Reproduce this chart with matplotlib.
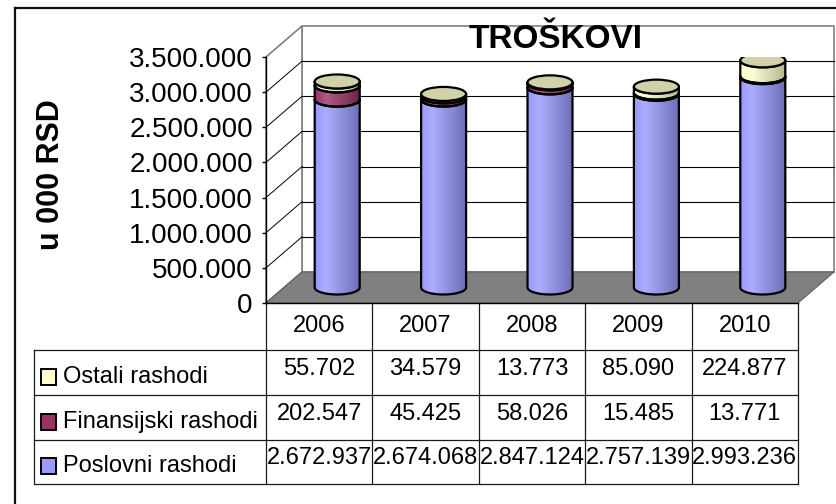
import numpy as np
import matplotlib
matplotlib.use("Agg")
import matplotlib.pyplot as plt
from matplotlib.patches import Polygon, Ellipse, Rectangle
from matplotlib.lines import Line2D
from matplotlib.colors import to_rgb
import matplotlib.transforms as mtrans

plt.rcParams['font.family'] = ['Liberation Sans', 'DejaVu Sans']

# ---------------- data ----------------
years = ['2006', '2007', '2008', '2009', '2010']
poslovni = [2672937, 2674068, 2847124, 2757139, 2993236]
finansijski = [202547, 45425, 58026, 15485, 13771]
ostali = [55702, 34579, 13773, 85090, 224877]
series_names = ['Poslovni rashodi', 'Finansijski rashodi', 'Ostali rashodi']
series_vals = [poslovni, finansijski, ostali]
colors = ['#9999FF', '#993366', '#FFFFCC']
yticks = list(range(0, 3_500_001, 500_000))
title = 'TROŠKOVI'
ylabel = 'u 000 RSD'


def fmt(v):
    return f"{v:,}".replace(",", ".")


W, H = 837, 504
fig = plt.figure(figsize=(W / 100, H / 100), dpi=100)
fig.patch.set_facecolor('white')


def fx(px):
    return px / W


def fy(py):
    return 1 - py / H


# front plane of the 3D plot
AX_L, AX_R, AX_T, AX_B = 266, 798, 57, 303
ax = fig.add_axes([fx(AX_L), fy(AX_B), (AX_R - AX_L) / W, (AX_B - AX_T) / H])
n = len(years)
ax.set_xlim(-0.5, n - 0.5)
ymax = yticks[-1]
ax.set_ylim(0, ymax)
ax.patch.set_visible(False)

ppx = (AX_R - AX_L) / n          # pixels per category
ppy = (AX_B - AX_T) / ymax        # pixels per unit value
DX = 36 / ppx                     # depth offset in data units
DY = 31 / ppy

x0, x1 = -0.5, n - 0.5
gray = '#808080'

# back wall
ax.add_patch(Polygon([(x0 + DX, DY), (x1 + DX, DY), (x1 + DX, ymax + DY), (x0 + DX, ymax + DY)],
                     closed=True, facecolor='white', edgecolor=gray, lw=1.2, clip_on=False, zorder=0.5))
# side wall
ax.add_patch(Polygon([(x0, 0), (x0 + DX, DY), (x0 + DX, ymax + DY), (x0, ymax)],
                     closed=True, facecolor='white', edgecolor=gray, lw=1.2, clip_on=False, zorder=0.5))
# gridlines
for v in yticks[1:-1]:
    ax.add_line(Line2D([x0 + DX, x1 + DX], [v + DY, v + DY], color='black', lw=0.8,
                       clip_on=False, zorder=0.8))
    ax.add_line(Line2D([x0, x0 + DX], [v, v + DY], color='black', lw=0.7,
                       clip_on=False, zorder=0.8))
# floor
ax.add_patch(Polygon([(x0, 0), (x1, 0), (x1 + DX, DY), (x0 + DX, DY)],
                     closed=True, facecolor=gray, edgecolor='#606060', lw=0.8, clip_on=False, zorder=1))


# cylinders
def ramp(color, m=64):
    c = np.array(to_rgb(color))
    light = np.clip(c + (1 - c) * 0.2, 0, 1)
    dark = c * 0.72
    t = np.linspace(0, 1, m)
    out = np.empty((m, 3))
    for k, tt in enumerate(t):
        if tt < 0.25:
            f = tt / 0.25
            out[k] = c * (1 - f) + light * f
        else:
            f = (tt - 0.25) / 0.75
            out[k] = light * (1 - f) + dark * f
    return out


grads = [ramp(c) for c in colors]
CW = 45 / ppx
HY = 7 / ppy
theta = np.linspace(np.pi, 2 * np.pi, 60)

for i in range(n):
    cx = i + DX / 2
    bottom = DY / 2
    for s, vals in enumerate(series_vals):
        v = vals[i]
        b, t = bottom, bottom + v
        arc_b = np.column_stack([cx + CW / 2 * np.cos(theta), b + HY * np.sin(theta)])
        arc_t = np.column_stack([cx + CW / 2 * np.cos(theta), t + HY * np.sin(theta)])[::-1]
        verts = np.vstack([arc_b, arc_t])
        poly = Polygon(verts, closed=True, facecolor='none', edgecolor='black', lw=1.6,
                       zorder=4, joinstyle='round')
        ax.add_patch(poly)
        im = ax.imshow(grads[s][None], extent=(cx - CW / 2, cx + CW / 2, b - HY, t),
                       aspect='auto', zorder=3, interpolation='bilinear')
        im.set_clip_path(poly)
        bottom = t
    topc = np.array(to_rgb(colors[-1])) * 0.82
    ax.add_patch(Ellipse((cx, bottom), CW, 2 * HY, facecolor=topc, edgecolor='black',
                         lw=1.6, zorder=5))

ax.set_xlim(-0.5, n - 0.5)
ax.set_ylim(0, ymax)
ax.set_aspect('auto')

# axes styling
for sp in ['top', 'right']:
    ax.spines[sp].set_visible(False)
ax.spines['left'].set_color('black')
ax.spines['left'].set_linewidth(1.0)
ax.spines['bottom'].set_color('black')
ax.spines['bottom'].set_linewidth(1.0)
ax.set_xticks([])
ax.set_yticks(yticks)
ax.set_yticklabels([fmt(v) for v in yticks])
ax.tick_params(axis='y', length=3, pad=6.5, labelsize=20, width=1.0)

# title and y label
fig.text(fx(556), fy(40), title, fontsize=24, fontweight='bold', ha='center', va='center')
fig.text(fx(51), fy(175), ylabel, fontsize=22, fontweight='bold', rotation=90,
         ha='center', va='center')

# data table
blend = mtrans.blended_transform_factory(ax.transData, fig.transFigure)
row_edges = [303, 350, 395, 440, 484]
LEG_L = 34
tab_right_px = ax.transData.transform((x1, 0))[0]
lc = '#1a1a1a'
for k in range(n + 1):
    ax.add_line(Line2D([k - 0.5, k - 0.5], [fy(row_edges[0]), fy(row_edges[-1])],
                       transform=blend, color=lc, lw=0.9, clip_on=False))
for yy in row_edges[1:]:
    fig.add_artist(Line2D([fx(LEG_L), tab_right_px / W], [fy(yy), fy(yy)], color=lc, lw=0.9))
fig.add_artist(Line2D([fx(LEG_L), fx(LEG_L)], [fy(row_edges[1]), fy(row_edges[-1])], color=lc, lw=0.9))

# header years
for i, yr in enumerate(years):
    ax.text(i, fy(326), yr, transform=blend, ha='center', va='center', fontsize=17)

# rows (Ostali, Finansijski, Poslovni from top)
order = [2, 1, 0]
for r, s in enumerate(order):
    top, bot = row_edges[r + 1], row_edges[r + 2]
    hgt = bot - top
    yv = top + 0.42 * hgt
    yl = top + 0.6 * hgt
    for i in range(n):
        ax.text(i, fy(yv), fmt(series_vals[s][i]), transform=blend, ha='center', va='center',
                fontsize=17, clip_on=False)
    fig.add_artist(Rectangle((fx(41), fy(yl + 8)), 15 / W, 16 / H, facecolor=colors[s],
                             edgecolor='black', lw=1.4))
    fig.text(fx(63), fy(yl), series_names[s], ha='left', va='center', fontsize=17)

# outer frame
fig.add_artist(Line2D([fx(15), fx(15)], [fy(8), 0], color='#111111', lw=1.6))
fig.add_artist(Line2D([fx(15), 1], [fy(8), fy(8)], color='#111111', lw=1.6))

fig.savefig('out.png', dpi=100)
